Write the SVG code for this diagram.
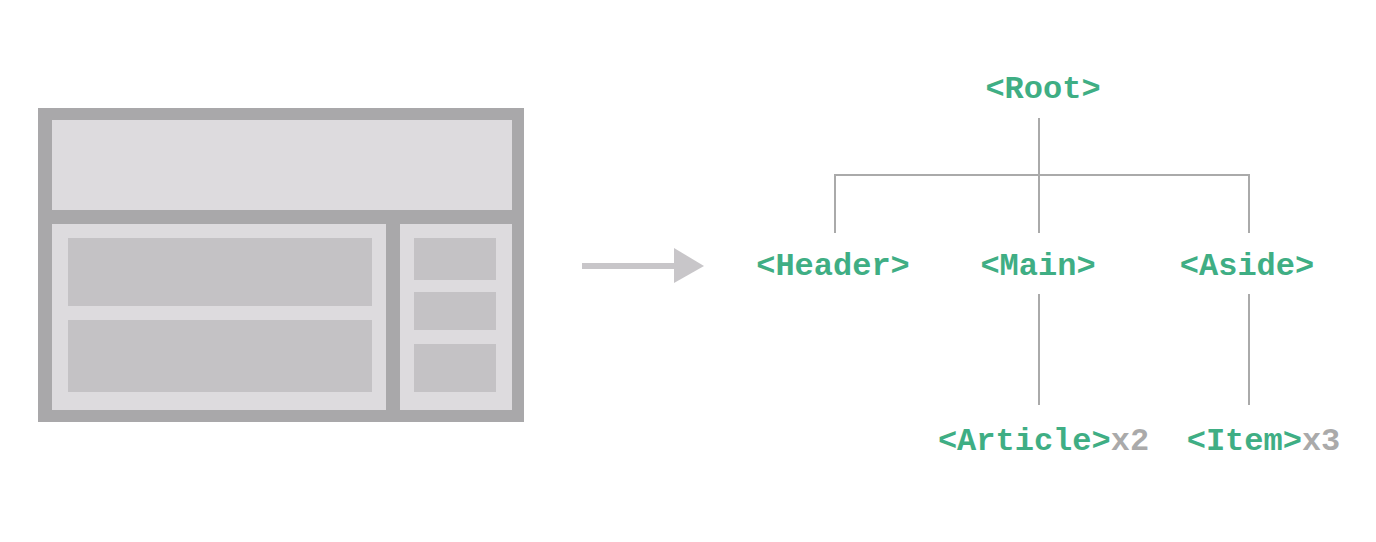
<svg xmlns="http://www.w3.org/2000/svg" width="1376" height="542" viewBox="0 0 1376 542">
<style>
.dark{fill:#a9a8aa}
.light{fill:#dddbde}
.mid{fill:#c4c2c5}
.lbl{font-family:"Liberation Mono","DejaVu Sans Mono",monospace;font-weight:bold;font-size:32px;fill:#3fae84;text-anchor:middle}
.cnt{fill:#aaaaaa}
.wire{stroke:#aaaaaa;stroke-width:2;fill:none}
</style>
<rect width="1376" height="542" fill="#ffffff"/>
<g id="layout">
<rect class="dark" x="38" y="108" width="486" height="314"/>
<rect class="light" x="52" y="120" width="460" height="90"/>
<rect class="light" x="52" y="224" width="334" height="186"/>
<rect class="light" x="400" y="224" width="112" height="186"/>
<rect class="mid" x="68" y="238" width="304" height="68"/>
<rect class="mid" x="68" y="320" width="304" height="72"/>
<rect class="mid" x="414" y="238" width="82" height="42"/>
<rect class="mid" x="414" y="292" width="82" height="38"/>
<rect class="mid" x="414" y="344" width="82" height="48"/>
</g>
<g id="arrow">
<rect x="582" y="263" width="94" height="6" fill="#c8c6c9"/>
<polygon points="674,248 704,266 674,283" fill="#c8c6c9"/>
</g>
<g id="connectors">
<line class="wire" x1="1039" y1="118" x2="1039" y2="233"/>
<polyline class="wire" points="835,233 835,175 1249,175 1249,233"/>
<line class="wire" x1="1039" y1="294" x2="1039" y2="405"/>
<line class="wire" x1="1249" y1="294" x2="1249" y2="405"/>
</g>
<g id="node-root"><text class="lbl" x="1043" y="98">&lt;Root&gt;</text></g>
<g id="node-header"><text class="lbl" x="833" y="275">&lt;Header&gt;</text></g>
<g id="node-main"><text class="lbl" x="1038" y="275">&lt;Main&gt;</text></g>
<g id="node-aside"><text class="lbl" x="1247" y="275">&lt;Aside&gt;</text></g>
<g id="node-article"><text class="lbl" x="1043.5" y="450">&lt;Article&gt;<tspan class="cnt">x2</tspan></text></g>
<g id="node-item"><text class="lbl" x="1263.5" y="450">&lt;Item&gt;<tspan class="cnt">x3</tspan></text></g>
</svg>
